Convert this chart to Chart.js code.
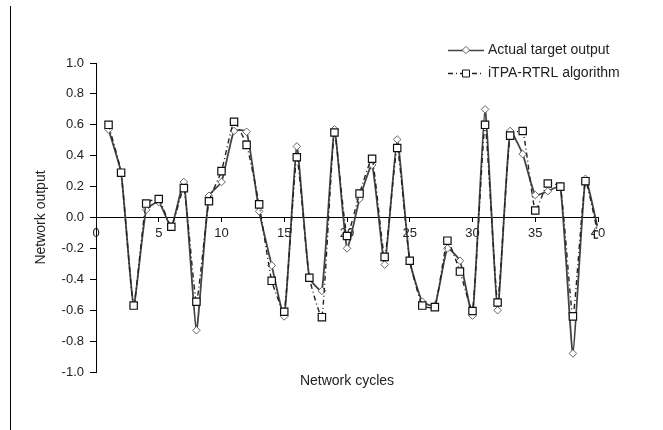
<!DOCTYPE html>
<html>
<head>
<meta charset="utf-8">
<script src="https://cdn.jsdelivr.net/npm/chart.js@4"></script>
<style>
  html, body { margin: 0; padding: 0; background: #fff; }
  #wrap { width: 663px; height: 430px; position: relative; }
</style>
</head>
<body>
<div id="wrap"><canvas id="myChart" width="663" height="430"></canvas></div>
<script>
const cycles = [1, 2, 3, 4, 5, 6, 7, 8, 9, 10, 11, 12, 13, 14, 15, 16, 17, 18, 19, 20,
    21, 22, 23, 24, 25, 26, 27, 28, 29, 30, 31, 32, 33, 34, 35, 36, 37, 38, 39, 40];
const actualOutput = [0.57, 0.29, -0.57, 0.05, 0.10, -0.06, 0.23, -0.73, 0.14, 0.23,
    0.56, 0.555, 0.04, -0.31, -0.64, 0.46, -0.39, -0.475, 0.57, -0.20,
    0.12, 0.34, -0.305, 0.505, -0.28, -0.545, -0.57, -0.20, -0.28, -0.635,
    0.70, -0.60, 0.56, 0.41, 0.145, 0.17, 0.20, -0.88, 0.25, -0.075];
const rtrlOutput = [0.60, 0.29, -0.57, 0.09, 0.12, -0.06, 0.19, -0.545, 0.105, 0.30,
    0.62, 0.47, 0.085, -0.41, -0.61, 0.39, -0.39, -0.645, 0.55, -0.12,
    0.155, 0.38, -0.255, 0.45, -0.28, -0.57, -0.58, -0.15, -0.35, -0.605,
    0.60, -0.55, 0.53, 0.56, 0.045, 0.22, 0.20, -0.64, 0.235, -0.11];
const seriesNames = ["Actual target output", "iTPA-RTRL algorithm"];
const yTicks = [-1.0, -0.8, -0.6, -0.4, -0.2, 0.0, 0.2, 0.4, 0.6, 0.8, 1.0];

const FONT = "'Liberation Sans', Arial, sans-serif";

const toPoints = (vals) => vals.map((v, i) => ({ x: cycles[i], y: v }));

// legend, x-axis title and the left frame line, drawn like the original figure
const decorations = {
    id: "decorations",
    afterDraw(chart) {
        const ctx = chart.ctx;
        const area = chart.chartArea;
        ctx.save();
        // frame line at far left
        ctx.strokeStyle = "#000";
        ctx.lineWidth = 1;
        ctx.beginPath();
        ctx.moveTo(10.5, 6);
        ctx.lineTo(10.5, 430);
        ctx.stroke();

        // x axis title
        ctx.fillStyle = "#222";
        ctx.font = "14px " + FONT;
        ctx.textAlign = "center";
        ctx.textBaseline = "middle";
        ctx.fillText("Network cycles", (area.left + area.right) / 2, 381);

        // legend
        ctx.textAlign = "left";
        const rows = [
            { y: 50, dash: [], color: "#444", shape: "diamond" },
            { y: 73, dash: [5, 3, 1, 3], color: "#222", shape: "square" },
        ];
        rows.forEach((r, i) => {
            ctx.strokeStyle = r.color;
            ctx.lineWidth = 1.4;
            ctx.setLineDash(r.dash);
            ctx.beginPath();
            ctx.moveTo(448, r.y + 0.5);
            ctx.lineTo(484, r.y + 0.5);
            ctx.stroke();
            ctx.setLineDash([]);
            ctx.lineWidth = 1;
            ctx.fillStyle = "#fff";
            ctx.beginPath();
            if (r.shape === "diamond") {
                ctx.moveTo(466 - 3.7, r.y);
                ctx.lineTo(466, r.y - 3.7);
                ctx.lineTo(466 + 3.7, r.y);
                ctx.lineTo(466, r.y + 3.7);
                ctx.closePath();
                ctx.strokeStyle = "#666";
            } else {
                ctx.rect(462.5, r.y - 3, 7, 7);
                ctx.strokeStyle = "#111";
            }
            ctx.fill();
            ctx.stroke();
            ctx.fillStyle = "#222";
            ctx.fillText(seriesNames[i], 488, r.y);
        });
        ctx.restore();
    },
};

const ctx = document.getElementById("myChart");
const myChart = new Chart(ctx, {
    type: "line",
    data: {
        datasets: [
            {
                label: seriesNames[0],
                data: toPoints(actualOutput),
                borderColor: "#444",
                borderWidth: 1.8,
                tension: 0.15,
                pointStyle: "rectRot",
                pointRadius: 3.8,
                pointBackgroundColor: "#fff",
                pointBorderColor: "#666",
                pointBorderWidth: 1,
                order: 2,
            },
            {
                label: seriesNames[1],
                data: toPoints(rtrlOutput),
                borderColor: "#222",
                borderWidth: 1.4,
                borderDash: [5, 3, 1, 3],
                tension: 0.15,
                pointStyle: "rect",
                pointRadius: 5.2,
                pointBackgroundColor: "#fff",
                pointBorderColor: "#111",
                pointBorderWidth: 1.2,
                order: 1,
            },
        ],
    },
    options: {
        responsive: false,
        animation: false,
        layout: { padding: { left: 33, top: 63, right: 65, bottom: 58 } },
        plugins: {
            legend: { display: false },
            tooltip: { enabled: false },
        },
        scales: {
            x: {
                type: "linear",
                position: { y: 0 },
                min: 0,
                max: 40,
                grid: { drawOnChartArea: false, drawTicks: true, tickLength: 4, color: "#000" },
                border: { display: true, color: "#000", width: 1 },
                ticks: {
                    stepSize: 5,
                    padding: 4,
                    maxRotation: 0,
                    color: "#222",
                    font: { family: FONT, size: 13 },
                },
            },
            y: {
                min: -1,
                max: 1,
                afterFit: (scale) => { scale.width = 63; },
                afterBuildTicks: (scale) => { scale.ticks = yTicks.map((v) => ({ value: v })); },
                grid: { drawOnChartArea: false, drawTicks: true, tickLength: 6, color: "#000" },
                border: { display: true, color: "#000", width: 1 },
                ticks: {
                    padding: 6,
                    color: "#222",
                    font: { family: FONT, size: 13 },
                    callback: (v) => v.toFixed(1),
                },
                title: {
                    display: true,
                    text: "Network output",
                    color: "#222",
                    font: { family: FONT, size: 14 },
                    padding: { top: 0, bottom: 0 },
                },
            },
        },
    },
    plugins: [decorations],
});
</script>
</body>
</html>
